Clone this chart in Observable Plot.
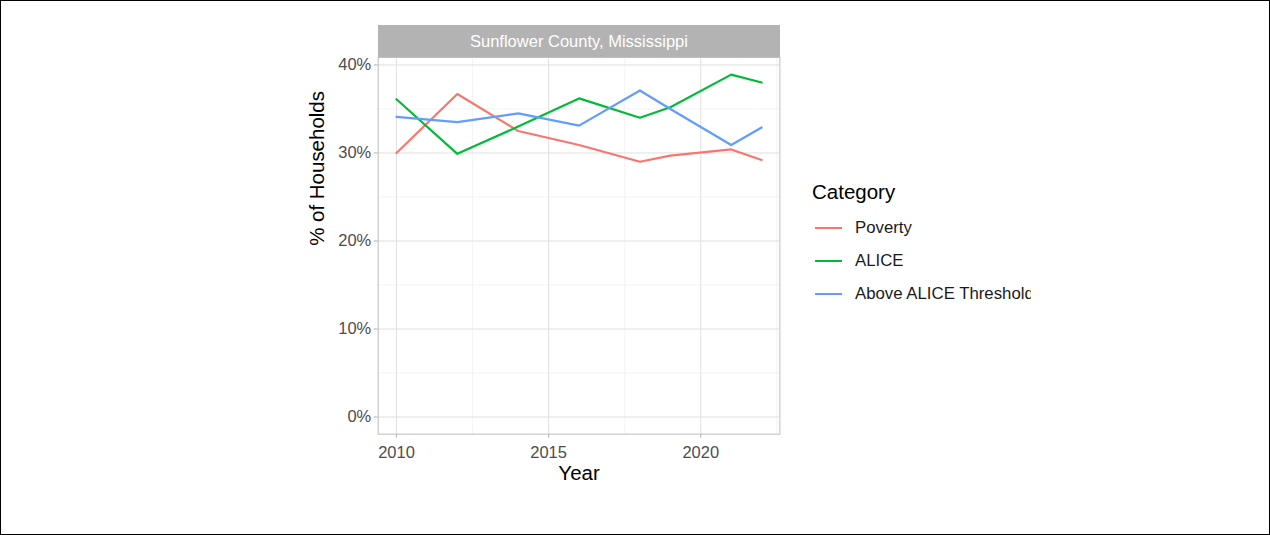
<!DOCTYPE html>
<html>
<head>
<meta charset="utf-8">
<script src="https://cdn.jsdelivr.net/npm/d3@7"></script>
<script src="https://cdn.jsdelivr.net/npm/@observablehq/plot@0.6"></script>
<style>
  html, body { margin: 0; padding: 0; background: #fff; }
  #wrap { position: relative; width: 1270px; height: 535px; box-sizing: border-box; border: 1px solid #000; overflow: hidden; font-family: "Liberation Sans", Arial, sans-serif; }
  #chart { position: absolute; left: -1px; top: -1px; }
  .strip { position: absolute; background: #B3B3B3; color: #fff; font-size: 16.5px; display: flex; align-items: center; justify-content: center; }
  .legend { position: absolute; overflow: hidden; white-space: nowrap; }
  .legend .title { font-size: 20.5px; color: #000; position: absolute; left: 0; }
  .legend .item { position: absolute; left: 0; height: 20px; display: flex; align-items: center; font-size: 16.8px; color: #1a1a1a; }
  .legend .key { width: 27px; height: 2px; margin-left: 3px; margin-right: 13px; flex: none; }
</style>
</head>
<body>
<div id="wrap"><div id="chart"></div></div>
<script>
const facetTitle = "Sunflower County, Mississippi";
const years = [2010, 2012, 2014, 2016, 2018, 2019, 2021, 2022];
const categories = ["Poverty", "ALICE", "Above ALICE Threshold"];
const colors = ["#F8766D", "#00BA38", "#619CFF"];
const poverty = [30.0, 36.7, 32.5, 30.9, 29.0, 29.7, 30.4, 29.2];
const alice   = [36.1, 29.9, 33.0, 36.2, 34.0, 35.2, 38.9, 38.0];
const above   = [34.1, 33.5, 34.5, 33.1, 37.1, 35.0, 30.9, 32.9];
const yTicks = [0, 10, 20, 30, 40];
const yMinor = [5, 15, 25, 35];
const xTicks = [2010, 2015, 2020];
const xMinor = [2012.5, 2017.5, 2022.5];

const series = [poverty, alice, above];
const data = [];
categories.forEach((c, i) => years.forEach((yr, j) => data.push({year: yr, value: series[i][j], category: c})));

const W = 1270, H = 535;
const mL = 378, mR = 490, mT = 57, mB = 101;
const font = '"Liberation Sans", Arial, sans-serif';

const plot = Plot.plot({
  width: W, height: H,
  marginLeft: mL, marginRight: mR, marginTop: mT, marginBottom: mB,
  style: {fontFamily: font, background: "transparent"},
  x: {domain: [2009.4, 2022.6]},
  y: {domain: [-1.95, 40.85]},
  color: {domain: categories, range: colors},
  marks: [
    Plot.gridY(yMinor, {stroke: "#EDEDED", strokeOpacity: 1, strokeWidth: 0.6}),
    Plot.gridX(xMinor, {stroke: "#EDEDED", strokeOpacity: 1, strokeWidth: 0.6}),
    Plot.gridY(yTicks, {stroke: "#E0E0E0", strokeOpacity: 1, strokeWidth: 1}),
    Plot.gridX(xTicks, {stroke: "#E0E0E0", strokeOpacity: 1, strokeWidth: 1}),
    Plot.axisY(yTicks, {tickFormat: d => d + "%", tickSize: 4, tickPadding: 3, fontSize: 16.5, fill: "#4D4D4D", stroke: "#B3B3B3", label: null}),
    Plot.axisX(xTicks, {tickFormat: d => String(d), tickSize: 4, tickPadding: 8, fontSize: 16.5, fill: "#4D4D4D", stroke: "#B3B3B3", label: null}),
    Plot.line(data, {x: "year", y: "value", stroke: "category", z: "category", strokeWidth: 2.2}),
    Plot.frame({stroke: "#BDBDBD", strokeWidth: 1}),
    Plot.text(["Year"], {frameAnchor: "bottom", dy: 46, fontSize: 20.5, fill: "#000"}),
    Plot.text(["% of Households"], {frameAnchor: "left", rotate: -90, dx: -61, fontSize: 20.5, fill: "#000"})
  ]
});
document.getElementById("chart").appendChild(plot);

const wrap = document.getElementById("wrap");
const strip = document.createElement("div");
strip.className = "strip";
strip.style.left = (mL - 1) + "px";
strip.style.top = (25 - 1) + "px";
strip.style.width = (W - mL - mR) + "px";
strip.style.height = (mT - 25) + "px";
strip.textContent = facetTitle;
wrap.appendChild(strip);

const legend = document.createElement("div");
legend.className = "legend";
legend.style.left = (812 - 1) + "px";
legend.style.top = (178 - 1) + "px";
legend.style.width = (1031 - 812) + "px";
legend.style.height = "140px";
const lt = document.createElement("div");
lt.className = "title";
lt.style.top = "2px";
lt.textContent = "Category";
legend.appendChild(lt);
const itemCenters = [228, 261, 294];
categories.forEach((c, i) => {
  const it = document.createElement("div");
  it.className = "item";
  it.style.top = (itemCenters[i] - 178 - 10) + "px";
  const k = document.createElement("span");
  k.className = "key";
  k.style.background = colors[i];
  const t = document.createElement("span");
  t.textContent = c;
  it.appendChild(k); it.appendChild(t);
  legend.appendChild(it);
});
wrap.appendChild(legend);
</script>
</body>
</html>
